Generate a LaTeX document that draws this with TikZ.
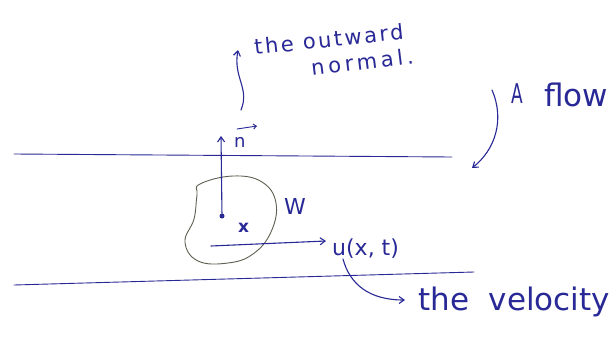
\documentclass[tikz,border=0pt]{standalone}
\usepackage{fontspec}
\setmainfont{DejaVu Sans}
\usetikzlibrary{arrows.meta}
\definecolor{ink}{RGB}{40,40,150}
\definecolor{blob}{RGB}{95,95,80}
\tikzset{
  inkline/.style={draw=ink, line width=1.1pt, line cap=round},
  inkarrow/.style={inkline, -{Straight Barb[length=5pt,width=7pt]}},
  hand/.style={text=ink, inner sep=0pt, anchor=base west},
}
\begin{document}
\begin{tikzpicture}[x=1pt,y=-1pt]
\useasboundingbox[fill=white] (0,0) rectangle (616,343);
\clip (0,0) rectangle (616,343);
% channel walls
\coordinate (t1) at (14,154); \coordinate (t2) at (452,157);
\coordinate (b1) at (14,285); \coordinate (b2) at (474,272);
\draw[inkline, line width=0.9pt] (t1) -- (t2);
\draw[inkline, line width=0.9pt] (b1) -- (b2);
% blob W
\draw[blob, line width=0.9pt] plot[smooth cycle, tension=0.7] coordinates
 {(200,184) (233,176) (262,182) (276,203) (271,232) (253,254) (228,263) (198,261) (185,242) (194,219) (197,195)};
% point x and normal
\node[circle, fill=ink, inner sep=0pt, minimum size=5pt] (x) at (222,216) {};
\coordinate (ntip) at (221,136);
\draw[inkarrow] (x) -- (ntip);
\node[hand, font=\fontsize{18}{18}\selectfont] (nlab) at (234,147) {n};
\coordinate (na1) at (237,129); \coordinate (na2) at (257,126);
\draw[inkline, line width=0.9pt, -{Straight Barb[length=3pt,width=5pt]}] (na1) -- (na2);
\node[hand, font=\fontsize{17}{17}\selectfont\bfseries] (xlab) at (238,232) {x};
\node[hand, font=\fontsize{22}{22}\selectfont] (wlab) at (284,214) {W};
% velocity arrow
\coordinate (v1) at (211,246); \coordinate (v2) at (326,241);
\draw[inkarrow] (v1) -- (v2);
\node[hand, font=\fontsize{22}{22}\selectfont] (ulab) at (332,255) {u(x, t)};
% velocity annotation
\coordinate (ua) at (343,259); \coordinate (vtip) at (405,300);
\draw[inkarrow] (ua) .. controls (350,285) and (370,300) .. (vtip);
\node[hand, font=\fontsize{31}{31}\selectfont] (vel) at (418,310) {the\ \ velocity};
% normal annotation
\coordinate (nb) at (241,110); \coordinate (nbtip) at (238,50);
\draw[inkarrow] (nb) .. controls (250,88) and (233,78) .. (nbtip);
\node[hand, font=\fontsize{21}{21}\selectfont\addfontfeature{LetterSpace=12}, rotate=6] (out) at (255,55) {the outward};
\node[hand, font=\fontsize{21}{21}\selectfont\addfontfeature{LetterSpace=18}, rotate=7] (nor) at (312,76) {normal.};
% flow annotation
\coordinate (fa) at (492,90); \coordinate (ftip) at (472,168);
\draw[inkarrow] (fa) .. controls (505,120) and (495,150) .. (ftip);
\node[hand, font=\fontsize{17}{17}\selectfont] (alab) at (511,103) {\scalebox{1}[1.6]{A}};
\node[hand, font=\fontsize{31}{31}\selectfont] (flow) at (544,106) {flow};
\end{tikzpicture}
\end{document}
